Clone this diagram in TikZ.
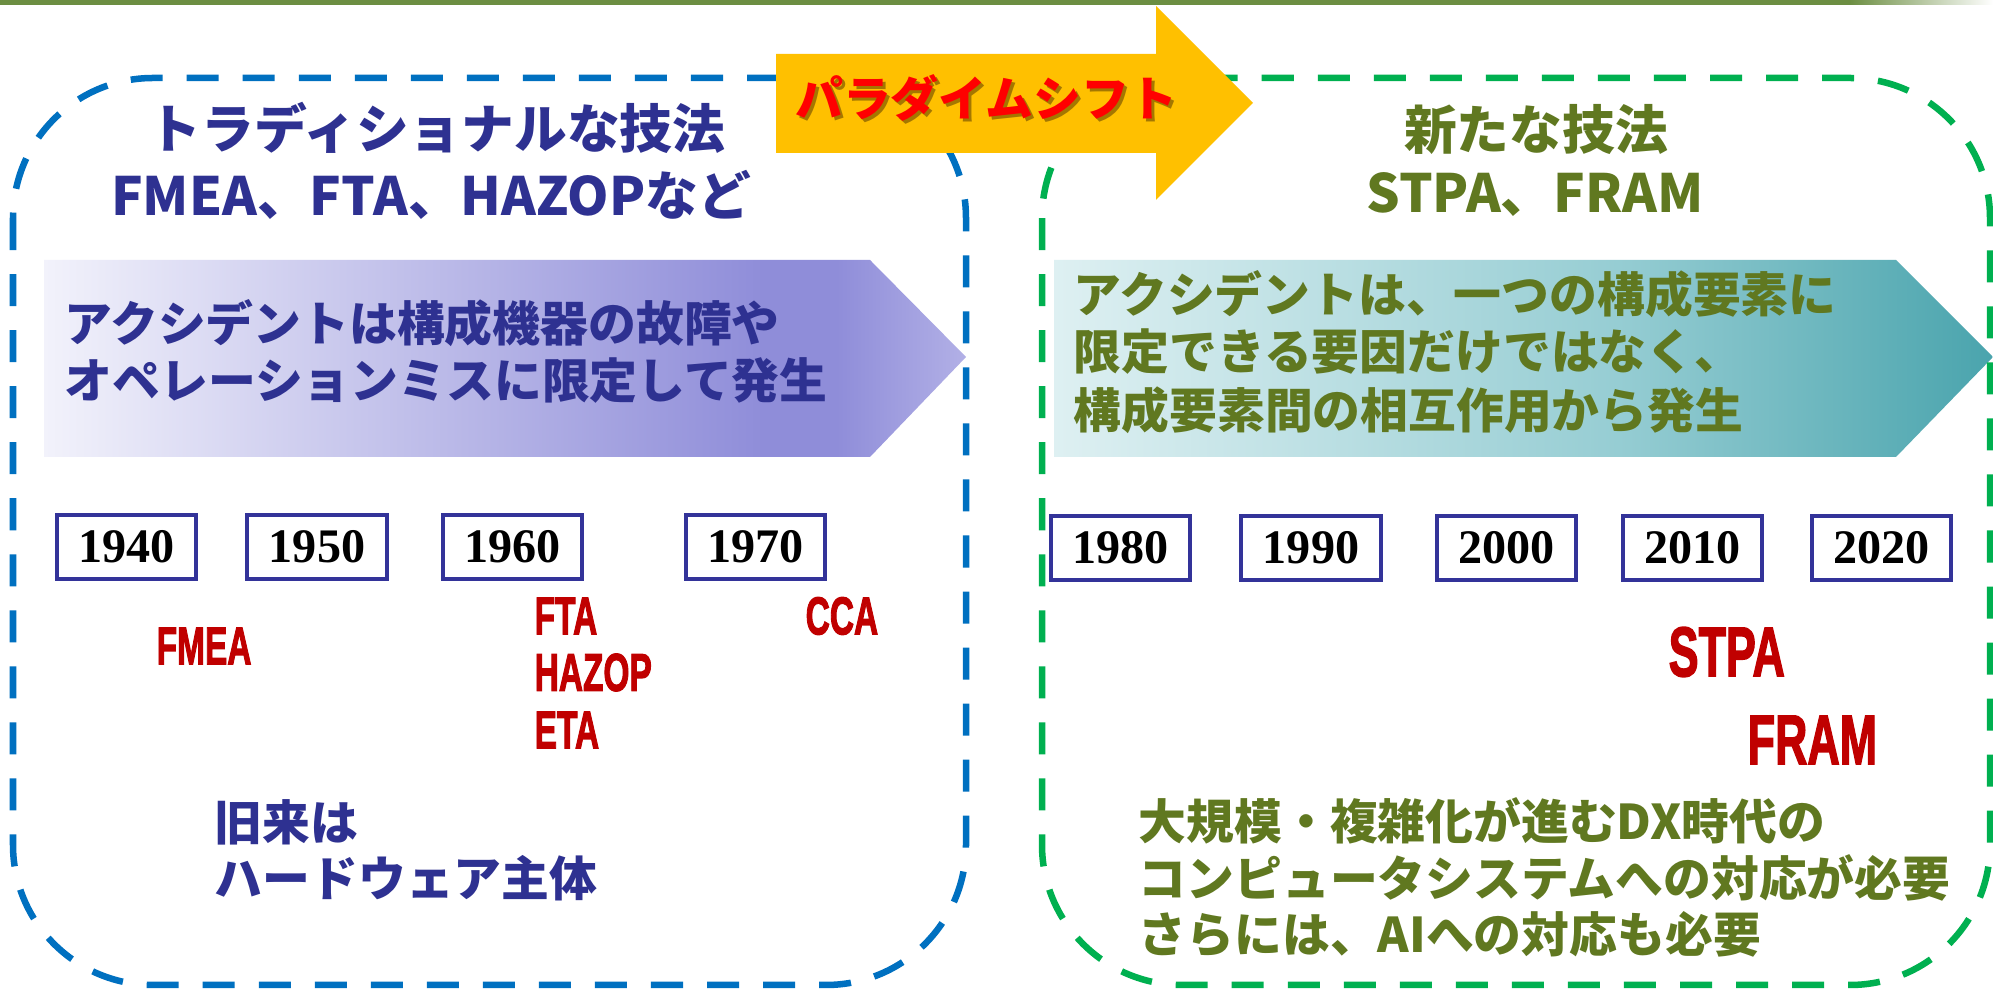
\documentclass[tikz,border=0pt]{standalone}
\usepackage{fontspec}
\usepackage{graphicx}
\newfontfamily\jp{Noto Sans CJK JP}
\newfontfamily\yrfont{Liberation Serif}
\newfontfamily\labfont{Liberation Sans Bold}[FakeBold=2.5]
\newcommand\fsz[1]{\fontsize{#1}{#1}\selectfont}
\definecolor{barcol}{RGB}{108,142,66}
\definecolor{navy}{RGB}{46,49,145}
\definecolor{boxnavy}{RGB}{51,51,153}
\definecolor{olive}{RGB}{96,120,32}
\definecolor{darkred}{RGB}{192,0,0}
\definecolor{dblue}{RGB}{0,112,192}
\definecolor{dgreen}{RGB}{0,176,80}
\definecolor{yel}{RGB}{255,192,0}
\definecolor{shcol}{RGB}{90,60,0}
\definecolor{lgA}{RGB}{242,242,251}
\definecolor{lgB}{RGB}{143,141,217}
\definecolor{lgC}{RGB}{178,176,230}
\definecolor{rgA}{RGB}{222,240,242}
\definecolor{rgB}{RGB}{150,205,211}
\definecolor{rgC}{RGB}{74,164,173}
\pgfdeclarehorizontalshading{leftgrad}{100bp}{color(0bp)=(lgA); color(25bp)=(lgA); color(64bp)=(lgB); color(68bp)=(lgB); color(75bp)=(lgC); color(100bp)=(lgC)}
\pgfdeclarehorizontalshading{rightgrad}{100bp}{color(0bp)=(rgA); color(25bp)=(rgA); color(55bp)=(rgB); color(75bp)=(rgC); color(100bp)=(rgC)}
\begin{document}
\begin{tikzpicture}[x=0.01cm,y=-0.01cm,
  jtitle/.style={inner sep=0pt, font=\jp\bfseries\fsz{15}},
  jtxt/.style={inner sep=0pt, anchor=west, font=\jp\bfseries\fsz{13.6}},
  yearbox/.style={draw=boxnavy, line width=0.04cm, fill=white, minimum width=1.39cm, minimum height=0.64cm, inner sep=0pt, font=\yrfont\bfseries\fsz{13.7}},
  redlab/.style={inner sep=0pt, anchor=west, text=darkred, font=\labfont\fsz{15.1}},
  bigred/.style={inner sep=0pt, anchor=west, text=darkred, font=\labfont\fsz{19.9}},
  dashbox/.style={line width=0.065cm, dash pattern=on 0.32cm off 0.24cm, rounded corners=1.4cm}
]
\useasboundingbox (0,0) rectangle (1993,989);
\fill[white] (0,0) rectangle (1993,989);
% top bar
\fill[barcol] (0,0) rectangle (1850,5);
\shade[left color=barcol, right color=white] (1849,0) rectangle (1993,5);
% gradient arrows
\shade[shading=leftgrad] (44,260) -- (870,260) -- (966,357) -- (870,457) -- (44,457) -- cycle;
\shade[shading=rightgrad] (1054,260) -- (1896,260) -- (1993,357) -- (1896,457) -- (1054,457) -- cycle;
% dashed boxes
\draw[dashbox, draw=dgreen] (1042,78) rectangle (1990,985);
\draw[dashbox, draw=dblue] (13,78) rectangle (966,985);
% paradigm shift arrow
\fill[yel] (776,54) -- (1156,54) -- (1156,6) -- (1253,103) -- (1156,200) -- (1156,153) -- (776,153) -- cycle;
\node[inner sep=0pt, font=\jp\bfseries\fsz{13.6}, text=shcol, opacity=0.55] (shiftsh) at (989,101) {パラダイムシフト};
\node[inner sep=0pt, font=\jp\bfseries\fsz{13.6}, text=red] (shift) at (986,98) {パラダイムシフト};
% left titles
\node[jtitle, text=navy] (lt1) at (437,128) {トラディショナルな技法};
\node[jtitle, text=navy] (lt2) at (431,195) {FMEA、FTA、HAZOPなど};
% right titles
\node[jtitle, text=olive] (rt1) at (1536,129) {新たな技法};
\node[jtitle, text=olive] (rt2) at (1535,195) {STPA、FRAM};
% arrow texts
\node[jtxt, text=navy] (la1) at (64,323) {アクシデントは構成機器の故障や};
\node[jtxt, text=navy] (la2) at (64,381) {オペレーションミスに限定して発生};
\node[jtxt, text=olive] (ra1) at (1073,294) {アクシデントは、一つの構成要素に};
\node[jtxt, text=olive] (ra2) at (1073,352) {限定できる要因だけではなく、};
\node[jtxt, text=olive] (ra3) at (1073,410) {構成要素間の相互作用から発生};
% years
\node[yearbox] (y1940) at (126.5,547) {1940};
\node[yearbox] (y1950) at (317,547) {1950};
\node[yearbox] (y1960) at (512.5,547) {1960};
\node[yearbox] (y1970) at (755.5,547) {1970};
\node[yearbox] (y1980) at (1120.5,548) {1980};
\node[yearbox] (y1990) at (1311,548) {1990};
\node[yearbox] (y2000) at (1506.5,548) {2000};
\node[yearbox] (y2010) at (1692.5,548) {2010};
\node[yearbox] (y2020) at (1881.5,548) {2020};
% red method labels
\node[redlab] (fmea) at (156,646) {\scalebox{0.63}[1]{FMEA}};
\node[redlab] (fta) at (534,616) {\scalebox{0.63}[1]{FTA}};
\node[redlab] (hazop) at (534,672.5) {\scalebox{0.63}[1]{HAZOP}};
\node[redlab] (eta) at (534,730) {\scalebox{0.63}[1]{ETA}};
\node[redlab] (cca) at (805,616) {\scalebox{0.63}[1]{CCA}};
\node[bigred] (stpa) at (1668,652) {\scalebox{0.64}[1]{STPA}};
\node[bigred] (fram) at (1747,740) {\scalebox{0.64}[1]{FRAM}};
% bottom texts
\node[jtxt, text=navy] (lb1) at (214,822) {旧来は};
\node[jtxt, text=navy] (lb2) at (214,878) {ハードウェア主体};
\node[jtxt, text=olive] (rb1) at (1138,821) {大規模・複雑化が進むDX時代の};
\node[jtxt, text=olive] (rb2) at (1138,877.5) {コンピュータシステムへの対応が必要};
\node[jtxt, text=olive] (rb3) at (1138,934) {さらには、AIへの対応も必要};
\end{tikzpicture}
\end{document}
